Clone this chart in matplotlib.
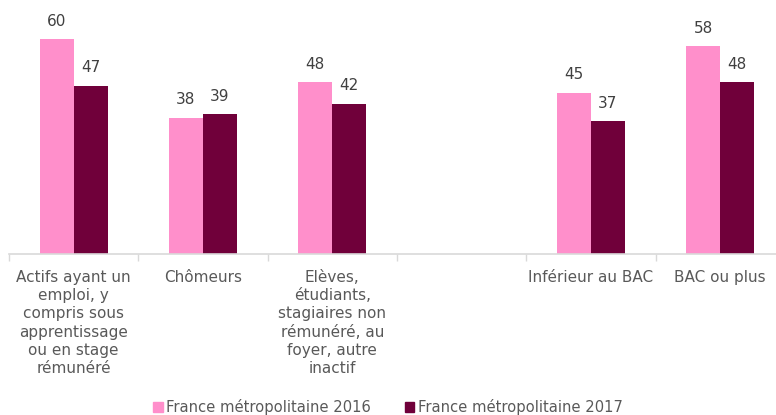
import numpy as np
import matplotlib
matplotlib.use("Agg")
import matplotlib.pyplot as plt

categories = [
    "Actifs ayant un\nemploi, y\ncompris sous\napprentissage\nou en stage\nrémunéré",
    "Chômeurs",
    "Elèves,\nétudiants,\nstagiaires non\nrémunéré, au\nfoyer, autre\ninactif",
    "",
    "Inférieur au BAC",
    "BAC ou plus",
]
values_2016 = [60, 38, 48, None, 45, 58]
values_2017 = [47, 39, 42, None, 37, 48]
series_names = ["France métropolitaine 2016", "France métropolitaine 2017"]

PINK = "#FF8FCB"
MAROON = "#70003A"
TEXT = "#595959"
GRID = "#D9D9D9"


def plot_chart():
    fig = plt.figure(figsize=(7.76, 4.15), dpi=100)
    ax = fig.add_axes([9 / 776, 1 - 254 / 415, 767 / 776, 254 / 415])

    width = 0.263
    x = np.arange(len(categories))
    for i, (a, b) in enumerate(zip(values_2016, values_2017)):
        if a is None:
            continue
        ax.bar(x[i] - width / 2, a, width, color=PINK)
        ax.bar(x[i] + width / 2, b, width, color=MAROON)
        ax.text(x[i] - width / 2, a + 5.0, str(a), ha="center", va="center",
                fontsize=11, color="#404040")
        ax.text(x[i] + width / 2, b + 5.0, str(b), ha="center", va="center",
                fontsize=11, color="#404040")

    for s in ["top", "right", "left"]:
        ax.spines[s].set_visible(False)
    ax.spines["bottom"].set_color(GRID)
    ax.spines["bottom"].set_linewidth(1.2)
    ax.set_yticks([])

    ax.set_xticks(np.arange(-0.5, len(categories) + 0.5, 1))
    ax.set_xticklabels([])
    ax.tick_params(axis="x", which="major", length=5, color=GRID, width=1)
    ax.set_xticks(x, minor=True)
    ax.set_xticklabels(categories, minor=True, fontsize=11, color=TEXT,
                       linespacing=1.27, va="top")
    ax.tick_params(axis="x", which="minor", length=0, pad=11.5)

    # limits after ticks, otherwise set_xticks widens the view
    ax.set_xlim(-0.5, -0.5 + 767 / 129.3)
    ax.set_ylim(0, 254 / 3.583)

    handles = [plt.Rectangle((0, 0), 1, 1, color=PINK),
               plt.Rectangle((0, 0), 1, 1, color=MAROON)]
    fig.legend(handles, series_names, loc="center", ncol=2,
               bbox_to_anchor=(388 / 776, 1 - 407 / 415), frameon=False,
               fontsize=10.6, labelcolor=TEXT, handlelength=0.62,
               handleheight=0.62, handletextpad=0.25, columnspacing=2.3)

    fig.savefig("out.png", dpi=100)


def main():
    plot_chart()


if __name__ == "__main__":
    main()
